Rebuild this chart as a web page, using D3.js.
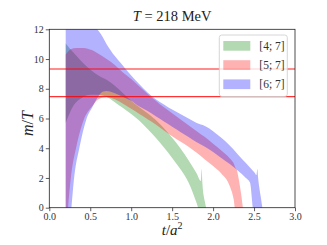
<!DOCTYPE html>
<html>
<head>
<meta charset="utf-8">
<script src="https://cdn.jsdelivr.net/npm/d3@7"></script>
<style>
  body { margin: 0; background: #fff; }
  svg { display: block; font-family: "Liberation Serif", "DejaVu Serif", serif; }
</style>
</head>
<body>
<div id="chart"></div>
<script>
// band [4;7]
const tG  = [0.2, 0.3, 0.4, 0.5, 0.6, 0.7, 0.8, 0.9, 1.0, 1.1, 1.2, 1.3, 1.4, 1.5, 1.6, 1.7, 1.8, 1.85, 1.86, 1.87, 1.9, 1.93];
const loG = [5.7, 6.9, 7.4, 7.6, 7.6, 7.45, 7.1, 6.7, 6.3, 5.85, 5.3, 4.7, 4.05, 3.35, 2.6, 1.7, 0.3, -0.5, -0.5, -0.5, -0.5, -0.5];
const hiG = [11.05, 10.4, 9.8, 9.3, 8.9, 8.6, 8.2, 7.7, 7.2, 6.75, 6.35, 5.9, 5.35, 4.7, 4.0, 3.2, 2.3, 1.8, 2.6, 1.6, 0.4, -0.3];
// band [5;7]
const tR  = [0.2, 0.23, 0.26, 0.33, 0.42, 0.52, 0.6, 0.7, 0.8, 0.9, 1.0, 1.1, 1.2, 1.3, 1.4, 1.5, 1.6, 1.7, 1.8, 1.9, 2.0, 2.1, 2.2, 2.25, 2.28, 2.29, 2.3, 2.34, 2.37];
const loR = [-3, 0, 1.86, 4.1, 5.9, 6.8, 7.3, 7.45, 7.3, 7.0, 6.65, 6.3, 5.95, 5.6, 5.2, 4.8, 4.45, 4.1, 3.7, 3.25, 2.8, 2.3, 1.5, 0.6, -0.5, -0.5, -0.5, -0.5, -0.5];
const hiR = [10.3, 10.5, 10.65, 10.75, 10.75, 10.6, 10.35, 10.0, 9.6, 9.1, 8.65, 8.15, 7.65, 7.2, 6.75, 6.35, 5.95, 5.55, 5.15, 4.75, 4.3, 3.85, 3.35, 3.0, 2.6, 2.55, 2.3, 1.0, -0.3];
// band [6;7]
const tB  = [0.2, 0.27, 0.3, 0.37, 0.45, 0.53, 0.6, 0.65, 0.7, 0.8, 0.9, 1.0, 1.1, 1.2, 1.3, 1.4, 1.5, 1.6, 1.7, 1.8, 1.9, 2.0, 2.1, 2.2, 2.3, 2.4, 2.45, 2.5, 2.53, 2.54, 2.55, 2.58, 2.61];
const loB = [-4, 0, 1.86, 4.1, 5.9, 6.8, 7.5, 7.8, 7.85, 7.7, 7.45, 7.2, 6.8, 6.5, 6.15, 5.8, 5.45, 5.1, 4.75, 4.4, 4.1, 3.75, 3.35, 2.95, 2.5, 2.0, 1.7, -0.5, -0.5, -0.5, -0.5, -0.5, -0.5];
const hiB = [14.5, 14.1, 13.9, 13.4, 12.9, 12.4, 11.9, 11.5, 11.0, 10.2, 9.55, 8.9, 8.3, 7.75, 7.3, 6.95, 6.6, 6.3, 6.0, 5.7, 5.5, 5.15, 4.7, 4.2, 3.6, 3.0, 2.7, 2.4, 2.2, 2.6, 2.0, 0.8, -0.3];

const labels = ["[4; 7]", "[5; 7]", "[6; 7]"];
const colors = ["#008000", "#ff0000", "#0000ff"];
const hlines = [9.33, 7.47];
const xTicks = [0, 0.5, 1, 1.5, 2, 2.5, 3];
const yTicks = [0, 2, 4, 6, 8, 10, 12];

const width = 327, height = 245;
const margin = { top: 29.3, right: 32, bottom: 37.3, left: 49.3 };

const svg = d3.select("#chart").append("svg")
  .attr("width", width).attr("height", height);

const x = d3.scaleLinear().domain([0, 3]).range([margin.left, width - margin.right]);
const y = d3.scaleLinear().domain([0, 12]).range([height - margin.bottom, margin.top]);

svg.append("clipPath").attr("id", "clip")
  .append("rect")
  .attr("x", x(0)).attr("y", y(12))
  .attr("width", x(3) - x(0)).attr("height", y(0) - y(12));

const bands = [
  { t: tG, lo: loG, hi: hiG },
  { t: tR, lo: loR, hi: hiR },
  { t: tB, lo: loB, hi: hiB }
];

const area = d3.area()
  .x(d => x(d.t)).y0(d => y(d.lo)).y1(d => y(d.hi))
  .curve(d3.curveMonotoneX);

const g = svg.append("g").attr("clip-path", "url(#clip)");
bands.forEach((b, i) => {
  const pts = b.t.map((t, k) => ({ t: t, lo: b.lo[k], hi: b.hi[k] }));
  g.append("path")
    .datum(pts)
    .attr("d", area)
    .attr("fill", colors[i])
    .attr("fill-opacity", 0.3);
});

g.selectAll("line.h")
  .data(hlines)
  .join("line")
  .attr("x1", x(0)).attr("x2", x(3))
  .attr("y1", d => y(d)).attr("y2", d => y(d))
  .attr("stroke", "red")
  .attr("stroke-opacity", (d, i) => i === 0 ? 0.6 : 0.8)
  .attr("stroke-width", 1.3);

// axes
const xAxis = svg.append("g")
  .attr("transform", `translate(0,${y(0)})`)
  .call(d3.axisBottom(x).tickValues(xTicks).tickFormat(d3.format(".1f")).tickSize(3.5).tickPadding(1.5));
const yAxis = svg.append("g")
  .attr("transform", `translate(${x(0)},0)`)
  .call(d3.axisLeft(y).tickValues(yTicks).tickFormat(d3.format("d")).tickSize(3.5).tickPadding(2));
[xAxis, yAxis].forEach(a => {
  a.select(".domain").remove();
  a.selectAll("text").attr("font-family", "Liberation Serif, serif").attr("font-size", 10).attr("fill", "#333");
  a.selectAll("line").attr("stroke", "#333").attr("stroke-width", 0.8);
});

svg.append("rect")
  .attr("x", x(0)).attr("y", y(12))
  .attr("width", x(3) - x(0)).attr("height", y(0) - y(12))
  .attr("fill", "none").attr("stroke", "#222").attr("stroke-width", 0.8);

// legend
const lg = svg.append("g").attr("transform", "translate(219.3,35)");
lg.append("rect")
  .attr("width", 68).attr("height", 61.5).attr("rx", 2.5)
  .attr("fill", "white").attr("fill-opacity", 0.8)
  .attr("stroke", "#ccc").attr("stroke-width", 0.8);
labels.forEach((l, i) => {
  lg.append("rect")
    .attr("x", 4).attr("y", 6 + i * 19.2)
    .attr("width", 27).attr("height", 9.7)
    .attr("fill", colors[i]).attr("fill-opacity", 0.3);
  lg.append("text")
    .attr("x", 40).attr("y", 15 + i * 19.2)
    .attr("font-size", 11.5).attr("fill", "#333")
    .text(l);
});

// title and labels
const title = svg.append("text")
  .attr("x", (x(0) + x(3)) / 2).attr("y", 21)
  .attr("text-anchor", "middle").attr("font-size", 14.5).attr("fill", "#222");
title.append("tspan").attr("font-style", "italic").text("T");
title.append("tspan").text(" = 218 MeV");

const xl = svg.append("text")
  .attr("x", (x(0) + x(3)) / 2).attr("y", 235)
  .attr("text-anchor", "middle").attr("font-size", 15).attr("fill", "#222");
xl.append("tspan").attr("font-style", "italic").text("t");
xl.append("tspan").text("/");
xl.append("tspan").attr("font-style", "italic").text("a");
xl.append("tspan").attr("font-size", 10).attr("dy", -6).text("2");

const yl = svg.append("text")
  .attr("transform", `translate(33,${(y(0) + y(12)) / 2 + 5}) rotate(-90)`)
  .attr("text-anchor", "middle").attr("font-size", 16).attr("fill", "#222");
yl.append("tspan").attr("font-style", "italic").text("m");
yl.append("tspan").text("/");
yl.append("tspan").attr("font-style", "italic").text("T");
</script>
</body>
</html>
